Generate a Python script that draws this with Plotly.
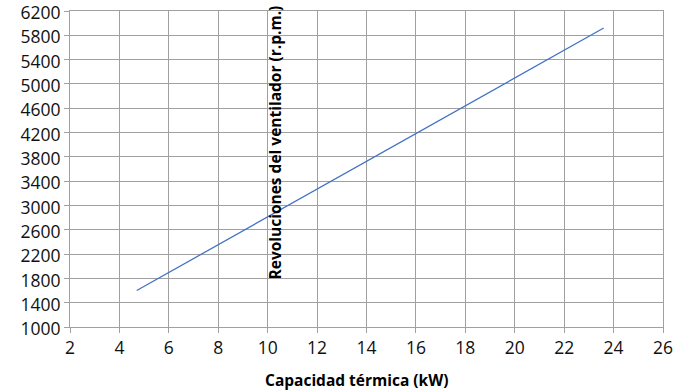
import plotly.graph_objects as go

# Fan speed vs. thermal capacity
capacidad_kw = [4.7, 23.6]
revoluciones_rpm = [1600, 5920]

x_ticks = list(range(2, 27, 2))
y_ticks = list(range(1000, 6201, 400))

FONT = "Open Sans, Lato, sans-serif"

fig = go.Figure()
fig.add_trace(go.Scatter(
    x=capacidad_kw, y=revoluciones_rpm, mode="lines",
    line=dict(color="#4472C4", width=1.3), showlegend=False,
))

axis_common = dict(
    showgrid=True, gridcolor="#A0A0A0", gridwidth=1,
    showline=True, linecolor="#A0A0A0", linewidth=1,
    ticks="outside", ticklen=5, tickcolor="#A0A0A0",
    tickfont=dict(family=FONT, size=17.5, color="#111111"),
    zeroline=False, ticklabeloverflow="allow", automargin=False,
)

fig.update_xaxes(range=[2, 26], tickvals=x_ticks, mirror=True, **axis_common)
fig.update_yaxes(range=[1000, 6200], tickvals=y_ticks, mirror=True,
                 ticklabelshift=2, **axis_common)

fig.add_annotation(
    text="<b>Revoluciones del ventilador (r.p.m.)</b>",
    xref="paper", yref="paper",
    x=(274.5 - 70) / (663 - 70), y=(327 - 143) / (327 - 11),
    textangle=-90, showarrow=False,
    font=dict(family=FONT, size=15.5, color="#000000"),
)
fig.add_annotation(
    text="<b>Capacidad térmica (kW)</b>",
    xref="paper", yref="paper", x=(356 - 70) / (663 - 70),
    y=-(380 - 327) / (327 - 11),
    yanchor="middle", showarrow=False,
    font=dict(family=FONT, size=15.5, color="#000000"),
)

fig.update_layout(
    width=697, height=392,
    margin=dict(l=70, r=34, t=11, b=65),
    paper_bgcolor="white", plot_bgcolor="white",
)

fig.write_html("out.html")
